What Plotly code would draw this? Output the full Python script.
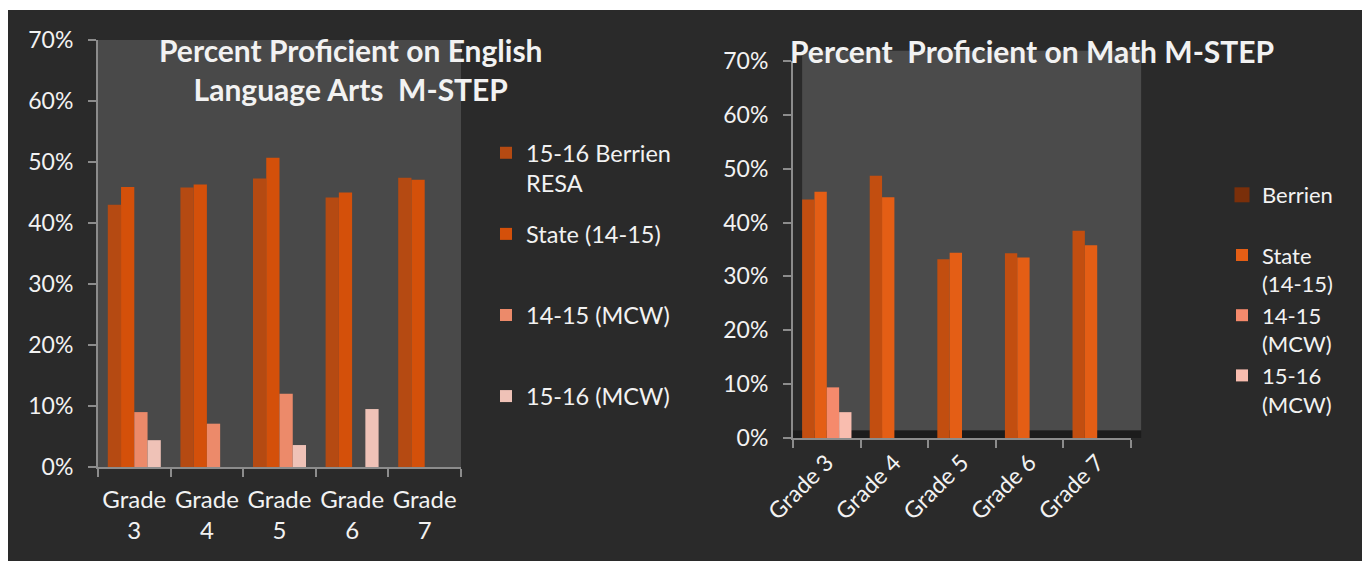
import plotly.graph_objects as go

grades = ["Grade 3", "Grade 4", "Grade 5", "Grade 6", "Grade 7"]
ela_ticktext = ["Grade<br>3", "Grade<br>4", "Grade<br>5", "Grade<br>6", "Grade<br>7"]

# English Language Arts (percent)
ela_berrien = [0.430, 0.458, 0.473, 0.442, 0.474]
ela_state = [0.459, 0.463, 0.507, 0.450, 0.471]
ela_mcw_1415 = [0.090, 0.071, 0.120, 0.0, 0.0]
ela_mcw_1516 = [0.044, 0.0, 0.036, 0.095, 0.0]

# Math (percent)
math_berrien = [0.443, 0.487, 0.332, 0.343, 0.385]
math_state = [0.457, 0.447, 0.344, 0.335, 0.358]
math_mcw_1415 = [0.094, 0.0, 0.0, 0.0, 0.0]
math_mcw_1516 = [0.048, 0.0, 0.0, 0.0, 0.0]

ela_names = ["15-16 Berrien<br>RESA", "State (14-15)<br> ", "14-15 (MCW)<br> ", "15-16 (MCW)"]
math_names = ["Berrien<br> ", "State<br>(14-15)", "14-15<br>(MCW)", "15-16<br>(MCW)"]

ela_colors = ["#b54a12", "#d4500a", "#ec8a6a", "#efc2b7"]
math_colors = ["#c24e10", "#e45e15", "#f58a6c", "#f9bdaf"]
math_berrien_legend = "#7a2f0a"

FONT = "Lato"
WHITE = "#f2f2f2"
W, H = 1370, 561
OFF = 8  # page body margin offset


def px(x):
    return (x - OFF) / W


def py(y):
    return 1 - (y - OFF) / H


fig = go.Figure()

for i, (vals, name, col) in enumerate(zip([ela_berrien, ela_state, ela_mcw_1415, ela_mcw_1516], ela_names, ela_colors)):
    fig.add_trace(go.Bar(x=grades, y=vals, name=name, marker=dict(color=col, line=dict(width=0)),
                         xaxis="x", yaxis="y", legend="legend", legendgroup=f"e{i}"))

for i, (vals, name, col) in enumerate(zip([math_berrien, math_state, math_mcw_1415, math_mcw_1516], math_names, math_colors)):
    fig.add_trace(go.Bar(x=grades, y=vals, name=name, marker=dict(color=col, line=dict(width=0)),
                         xaxis="x2", yaxis="y2", legend="legend2", legendgroup=f"m{i}",
                         showlegend=(i != 0)))

# legend swatch for Math Berrien (darker in the original legend)
fig.add_trace(go.Scatter(x=[None], y=[None], mode="markers", name=math_names[0],
                         marker=dict(symbol="square", size=15, color=math_berrien_legend),
                         xaxis="x2", yaxis="y2", legend="legend2", legendgroup="m0", legendrank=1))

axis_common = dict(showgrid=False, zeroline=False, showline=True, linecolor="#8c8c8c", linewidth=2,
                   ticks="outside", tickcolor="#8c8c8c", tickwidth=2, ticklen=8, automargin=False)

yfont = dict(family=FONT, size=23, color=WHITE)

fig.update_layout(
    width=W, height=H,
    margin=dict(l=0, r=0, t=0, b=0, autoexpand=False),
    paper_bgcolor="#ffffff",
    plot_bgcolor="rgba(0,0,0,0)",
    barmode="group",
    bargap=0.27,
    bargroupgap=0,
    showlegend=True,
    xaxis=dict(domain=[px(98), px(461)], tickson="boundaries", tickmode="array", tickangle=0,
               tickvals=grades, ticktext=ela_ticktext, ticklabelstandoff=10, anchor="y",
               tickfont=dict(family=FONT, size=24, color=WHITE), **axis_common),
    yaxis=dict(domain=[py(467), py(40)], range=[0, 0.70], dtick=0.10, tickformat=".0%",
               anchor="x", tickfont=yfont, ticklabelstandoff=10, **axis_common),
    xaxis2=dict(domain=[px(793), px(1131)], tickson="boundaries", tickangle=-45,
                anchor="y2", tickfont=dict(family=FONT, size=23, color=WHITE), **axis_common),
    yaxis2=dict(domain=[py(438), py(61)], range=[0, 0.70], dtick=0.10, tickformat=".0%",
                anchor="x2", tickfont=yfont, ticklabelstandoff=10, **axis_common),
    legend=dict(x=px(486), y=py(131), xanchor="left", yanchor="top", valign="top",
                bgcolor="rgba(0,0,0,0)", font=dict(family=FONT, size=23.5, color=WHITE),
                tracegroupgap=17, itemclick=False),
    legend2=dict(x=px(1222), y=py(174), xanchor="left", yanchor="top", valign="top",
                 bgcolor="rgba(0,0,0,0)", font=dict(family=FONT, size=22, color=WHITE),
                 tracegroupgap=0, itemclick=False),
    shapes=[
        dict(type="rect", xref="paper", yref="paper", x0=px(7), x1=1, y0=0, y1=py(10),
             fillcolor="#2a2a2a", line=dict(width=0), layer="below"),
        dict(type="rect", xref="x domain", yref="y domain", x0=0, x1=1, y0=0, y1=1,
             fillcolor="#494949", line=dict(width=0), layer="below"),
        dict(type="rect", xref="x2 domain", yref="y2 domain", x0=0.027, x1=1.03, y0=0.02, y1=1.027,
             fillcolor="#4b4b4b", line=dict(width=0), layer="below"),
        dict(type="rect", xref="x2 domain", yref="y2 domain", x0=0.0, x1=1.03, y0=0.0, y1=0.02,
             fillcolor="#1c1c1c", line=dict(width=0), layer="below"),
    ],
    annotations=[
        dict(text="<b>Percent Proficient on English<br>Language Arts  M-STEP</b>", xref="paper", yref="paper",
             x=px(351), y=py(30), xanchor="center", yanchor="top", showarrow=False,
             font=dict(family=FONT, size=30, color=WHITE)),
        dict(text="<b>Percent  Proficient on Math M-STEP</b>", xref="paper", yref="paper",
             x=px(1032), y=py(31), xanchor="center", yanchor="top", showarrow=False,
             font=dict(family=FONT, size=30, color=WHITE)),
    ],
)

fig.write_html("out.html")
